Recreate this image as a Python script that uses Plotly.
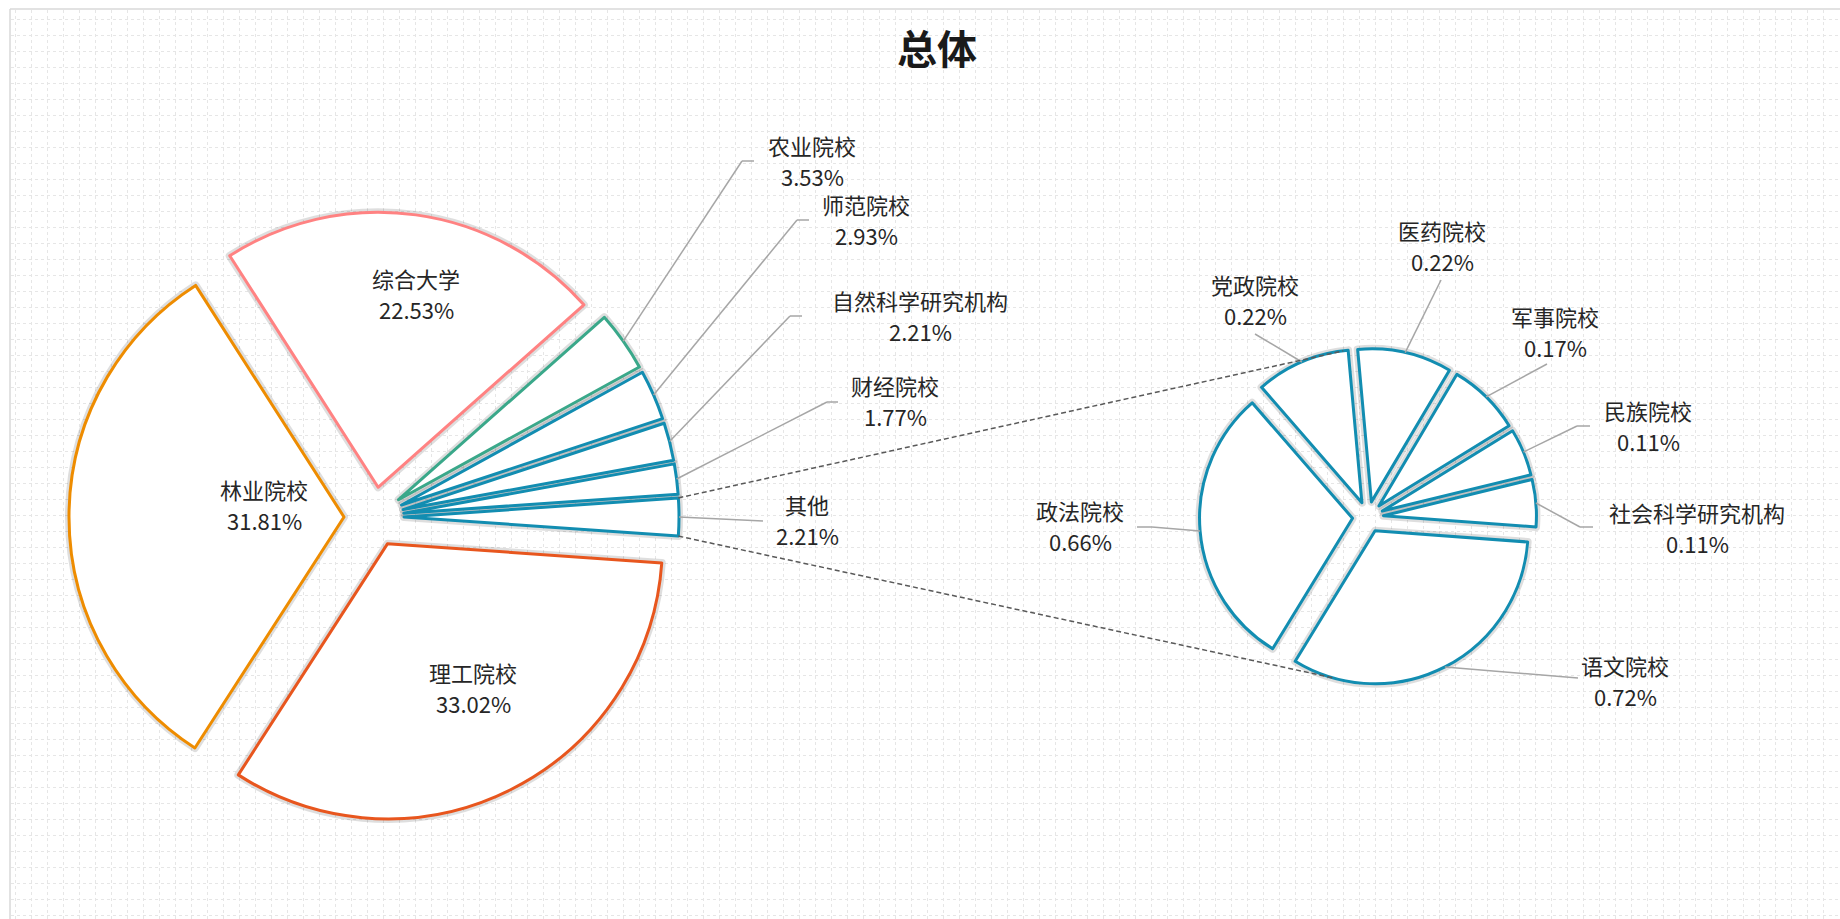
import math
import plotly.graph_objects as go

# ---------------- data ----------------
main_labels = ["其他", "财经院校", "自然科学研究机构", "师范院校", "农业院校", "综合大学", "林业院校", "理工院校"]
main_values = [2.21, 1.77, 2.21, 2.93, 3.53, 22.53, 31.81, 33.02]
sub_labels = ["语文院校", "政法院校", "党政院校", "医药院校", "军事院校", "民族院校", "社会科学研究机构"]
sub_values = [0.72, 0.66, 0.22, 0.22, 0.17, 0.11, 0.11]
title_text = "总体"

# ---------------- style / layout constants ----------------
W, H = 1840, 919
FONT = "Noto Sans CJK SC"
BLUE = "#128DB1"
main_colors = [BLUE, BLUE, BLUE, BLUE, "#3AA88A", "#FF8282", "#EE8C00", "#E8561E"]
sub_colors = [BLUE] * len(sub_values)

C1, R1, P1 = (374, 517), 275, 30 / 275        # main pie centre (px), radius, pull
C2, R2, P2 = (1368, 517), 153, 15.5 / 153     # secondary pie
SUB_START = -4.2                               # math angle where first sub slice begins

def px(x):
    return x / W

def py(y):
    return 1 - y / H

def domain(c, r, p):
    half = r * (1 + p)
    return dict(x=[(c[0] - half) / W, (c[0] + half) / W],
                y=[1 - (c[1] + half) / H, 1 - (c[1] - half) / H])

# slice geometry (math degrees, counter-clockwise from 3 o'clock)
mt = sum(main_values)
ma = [360 * v / mt for v in main_values]
m_start = -ma[0] / 2
main_bis, cum = [], 0
for a in ma:
    main_bis.append(m_start + cum + a / 2)
    cum += a
main_rot = 90 - ma[0] / 2

st = sum(sub_values)
sa = [360 * v / st for v in sub_values]
sub_bis, cum = [], 0
for a in sa:
    sub_bis.append(SUB_START - cum - a / 2)
    cum += a
sub_rot = 90 - SUB_START

def arc_point(c, r, p, bis):
    t = math.radians(bis)
    return (c[0] + r * (1 + p) * math.cos(t), c[1] - r * (1 + p) * math.sin(t))

def slice_point(c, r, p, bis, ang):
    t, u = math.radians(bis), math.radians(ang)
    return (c[0] + p * r * math.cos(t) + r * math.cos(u),
            c[1] - p * r * math.sin(t) - r * math.sin(u))

fig = go.Figure()

# faint dotted background grid (empty cartesian trace carries the axes)
fig.add_trace(go.Scatter(x=[], y=[], showlegend=False, hoverinfo="skip"))

def add_pie(labels, values, colors, direction, rot, pull, dom):
    n = len(values)
    fig.add_trace(go.Pie(labels=labels, values=values, sort=False, direction=direction,
                         rotation=rot, pull=pull, domain=dom, textinfo="none",
                         hoverinfo="skip", showlegend=False,
                         marker=dict(colors=["rgba(0,0,0,0)"] * n,
                                     line=dict(color="rgba(0,0,0,0.13)", width=8))))
    fig.add_trace(go.Pie(labels=labels, values=values, sort=False, direction=direction,
                         rotation=rot, pull=pull, domain=dom, textinfo="none",
                         hovertemplate="%{label}: %{value:.2f}%<extra></extra>",
                         showlegend=False,
                         marker=dict(colors=["white"] * n,
                                     line=dict(color=colors, width=3))))

add_pie(main_labels, main_values, main_colors, "counterclockwise", main_rot, P1, domain(C1, R1, P1))
add_pie(sub_labels, sub_values, sub_colors, "clockwise", sub_rot, P2, domain(C2, R2, P2))

# label placement (px): text centre, leader path points after the slice arc point
label_layout = {
    "综合大学": ((416, 294), None),
    "林业院校": ((264, 505), None),
    "理工院校": ((473, 688), None),
    "农业院校": ((812, 161), [(742, 161), (754, 161)]),
    "师范院校": ((866, 220), [(797, 220), (809, 220)]),
    "自然科学研究机构": ((920, 316), [(790, 316), (802, 316)]),
    "财经院校": ((895, 401), [(827, 402), (838, 402)]),
    "其他": ((807, 520), [(763, 521)]),
    "党政院校": ((1255, 300), [(1255, 334)]),
    "医药院校": ((1442, 246), [(1441, 280)]),
    "军事院校": ((1555, 332), [(1547, 364)]),
    "民族院校": ((1648, 426), [(1577, 426), (1590, 426)]),
    "社会科学研究机构": ((1697, 528), [(1580, 527), (1593, 527)]),
    "政法院校": ((1080, 526), [(1152, 527), (1137, 527)]),
    "语文院校": ((1625, 681), [(1578, 678)]),
}

annotations, shapes = [], []
label_font = dict(family=FONT, size=22, color="#262626")

def add_labels(labels, values, bis, c, r, p):
    for lab, v, b in zip(labels, values, bis):
        (tx, ty), path = label_layout[lab]
        annotations.append(dict(x=px(tx), y=py(ty), xref="paper", yref="paper",
                                text=lab, showarrow=False, borderpad=0,
                                xanchor="center", yanchor="bottom", yshift=-1,
                                font=label_font))
        annotations.append(dict(x=px(tx), y=py(ty), xref="paper", yref="paper",
                                text=f"{v:.2f}%", showarrow=False, borderpad=0,
                                xanchor="center", yanchor="top", yshift=2,
                                font=label_font))
        if path:
            pts = [arc_point(c, r, p, b)] + path
            for (x0, y0), (x1, y1) in zip(pts[:-1], pts[1:]):
                shapes.append(dict(type="line", xref="paper", yref="paper",
                                   x0=px(x0), y0=py(y0), x1=px(x1), y1=py(y1),
                                   line=dict(color="#A6A6A6", width=1.5)))

add_labels(main_labels, main_values, main_bis, C1, R1, P1)
add_labels(sub_labels, sub_values, sub_bis, C2, R2, P2)

# connector lines between the "其他" slice and the secondary pie
top_a = slice_point(C1, R1, P1, main_bis[0], main_bis[0] + ma[0] / 2)
bot_a = slice_point(C1, R1, P1, main_bis[0], main_bis[0] - ma[0] / 2)
top_b = slice_point(C2, R2, P2, sub_bis[2], 97)
bot_b = slice_point(C2, R2, P2, sub_bis[0], -106)
for (x0, y0), (x1, y1) in [(top_a, top_b), (bot_a, bot_b)]:
    shapes.append(dict(type="line", xref="paper", yref="paper",
                       x0=px(x0), y0=py(y0), x1=px(x1), y1=py(y1),
                       line=dict(color="#595959", width=1.5, dash="5px,3px")))

# chart-area frame (left and top edges visible)
shapes.append(dict(type="line", xref="paper", yref="paper", x0=px(10), y0=py(9), x1=1, y1=py(9),
                   line=dict(color="#D9D9D9", width=1.5)))
shapes.append(dict(type="line", xref="paper", yref="paper", x0=px(10), y0=py(9), x1=px(10), y1=0,
                   line=dict(color="#D9D9D9", width=1.5)))

grid_axis = dict(showgrid=True, gridcolor="#E6E6E6", griddash="dot", gridwidth=1,
                 zeroline=False, showline=False, showticklabels=False, ticks="",
                 fixedrange=True, dtick=16)

fig.update_layout(
    width=W, height=H,
    margin=dict(l=0, r=0, t=0, b=0),
    paper_bgcolor="white", plot_bgcolor="white",
    showlegend=False,
    title=dict(text=f"<b>{title_text}</b>", x=px(937), y=py(50), xref="paper", yref="container",
               xanchor="center", yanchor="middle",
               font=dict(family=FONT, size=40, color="#1A1A1A")),
    xaxis=dict(grid_axis, domain=[px(11), 1], range=[0, W - 11], tick0=4),
    yaxis=dict(grid_axis, domain=[0, py(10)], range=[0, H - 10], tick0=4),
    annotations=annotations,
    shapes=shapes,
    font=dict(family=FONT),
)

fig.write_html("out.html", config={"displayModeBar": False},
               post_script="document.body.style.margin='0';document.body.style.overflow='hidden';")
